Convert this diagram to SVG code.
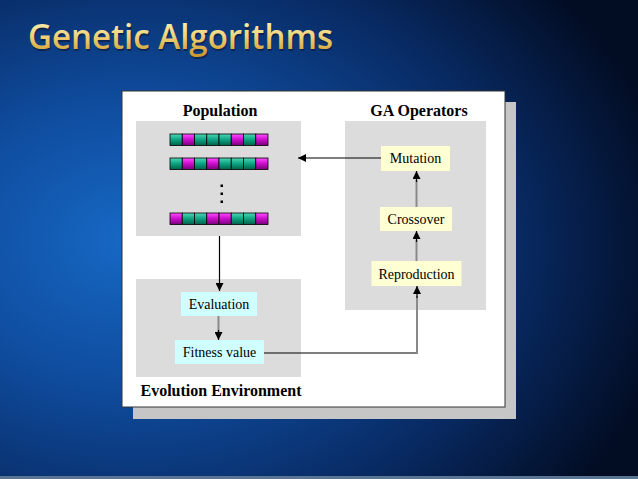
<svg xmlns="http://www.w3.org/2000/svg" width="638" height="479" viewBox="0 0 638 479">
<defs>
<radialGradient id="bg" cx="0.22" cy="0.52" r="0.85" fx="0.2" fy="0.5">
<stop offset="0" stop-color="#1668c4"/>
<stop offset="0.35" stop-color="#0f4c9e"/>
<stop offset="0.7" stop-color="#082a63"/>
<stop offset="1" stop-color="#020c22"/>
</radialGradient>
<linearGradient id="gold" x1="0" y1="0" x2="0" y2="1">
<stop offset="0" stop-color="#fffbd0"/>
<stop offset="0.5" stop-color="#f0d47a"/>
<stop offset="1" stop-color="#c48e22"/>
</linearGradient>
<linearGradient id="teal" x1="0" y1="0" x2="0" y2="1">
<stop offset="0" stop-color="#50d8b8"/>
<stop offset="0.45" stop-color="#10a886"/>
<stop offset="1" stop-color="#006048"/>
</linearGradient>
<linearGradient id="mag" x1="0" y1="0" x2="0" y2="1">
<stop offset="0" stop-color="#ff50ff"/>
<stop offset="0.45" stop-color="#d010d0"/>
<stop offset="1" stop-color="#780078"/>
</linearGradient>
<marker id="ah" viewBox="0 0 10 10" refX="10" refY="5" markerWidth="9" markerHeight="8" markerUnits="userSpaceOnUse" orient="auto">
<path d="M0,0 L10,5 L0,10 Z" fill="#000"/>
</marker>
<style>
.t{font-family:"Liberation Serif","Times New Roman",serif;fill:#000}
.h{font-size:16px;font-weight:bold}
.n{font-size:14px}
.grp{fill:#dcdcdc}
.y{fill:#ffffd4}
.c{fill:#d0ffff}
.g{fill:url(#teal);stroke:#000;stroke-width:0.8}
.m{fill:url(#mag);stroke:#000;stroke-width:0.8}
.blk{stroke:#000;stroke-width:1.2;fill:none}
.gry{stroke:#8a8a8a;stroke-width:2;fill:none}
.ttl{font-family:"Open Sans","Noto Sans",sans-serif;font-size:34px;font-weight:600}
</style>
</defs>
<rect width="638" height="479" fill="url(#bg)"/>
<rect x="0" y="476" width="638" height="3" fill="#5a7594"/>
<text class="ttl" x="28" y="49" fill="#0a1530" opacity="0.55" textLength="305" lengthAdjust="spacingAndGlyphs" transform="translate(1,1.5)">Genetic Algorithms</text>
<text class="ttl" x="28" y="49" fill="url(#gold)" textLength="305" lengthAdjust="spacingAndGlyphs">Genetic Algorithms</text>

<rect x="133" y="102" width="383" height="317" fill="#c6c6c6"/>
<rect x="122" y="91" width="383" height="316" fill="#fff" stroke="#333" stroke-width="1"/>

<g id="population">
<rect class="grp" x="136" y="121" width="165" height="115"/>
<text class="t h" x="220" y="116" text-anchor="middle">Population</text>
<g transform="translate(170,134)">
<rect class="g" x="0" y="0" width="12.25" height="11.5"/><rect class="m" x="12.25" y="0" width="12.25" height="11.5"/><rect class="g" x="24.5" y="0" width="12.25" height="11.5"/><rect class="g" x="36.75" y="0" width="12.25" height="11.5"/><rect class="g" x="49" y="0" width="12.25" height="11.5"/><rect class="m" x="61.25" y="0" width="12.25" height="11.5"/><rect class="g" x="73.5" y="0" width="12.25" height="11.5"/><rect class="m" x="85.75" y="0" width="12.25" height="11.5"/>
</g>
<g transform="translate(170,158)">
<rect class="g" x="0" y="0" width="12.25" height="11.5"/><rect class="m" x="12.25" y="0" width="12.25" height="11.5"/><rect class="g" x="24.5" y="0" width="12.25" height="11.5"/><rect class="m" x="36.75" y="0" width="12.25" height="11.5"/><rect class="g" x="49" y="0" width="12.25" height="11.5"/><rect class="g" x="61.25" y="0" width="12.25" height="11.5"/><rect class="g" x="73.5" y="0" width="12.25" height="11.5"/><rect class="m" x="85.75" y="0" width="12.25" height="11.5"/>
</g>
<g transform="translate(170,213)">
<rect class="m" x="0" y="0" width="12.25" height="11.5"/><rect class="g" x="12.25" y="0" width="12.25" height="11.5"/><rect class="g" x="24.5" y="0" width="12.25" height="11.5"/><rect class="m" x="36.75" y="0" width="12.25" height="11.5"/><rect class="m" x="49" y="0" width="12.25" height="11.5"/><rect class="g" x="61.25" y="0" width="12.25" height="11.5"/><rect class="g" x="73.5" y="0" width="12.25" height="11.5"/><rect class="m" x="85.75" y="0" width="12.25" height="11.5"/>
</g>
<rect x="220.5" y="184.5" width="2.5" height="2.5" fill="#000"/>
<rect x="220.5" y="192.5" width="2.5" height="2.5" fill="#000"/>
<rect x="220.5" y="200.5" width="2.5" height="2.5" fill="#000"/>
</g>

<g id="ga-operators">
<rect class="grp" x="345" y="121" width="141" height="189"/>
<text class="t h" x="419" y="116" text-anchor="middle">GA Operators</text>
</g>
<g id="mutation">
<rect class="y" x="381" y="146" width="69" height="25"/>
<text class="t n" x="415.5" y="163" text-anchor="middle">Mutation</text>
</g>
<g id="crossover">
<rect class="y" x="380" y="207" width="72" height="24"/>
<text class="t n" x="416" y="223.5" text-anchor="middle">Crossover</text>
</g>
<g id="reproduction">
<rect class="y" x="371.5" y="261" width="90" height="25"/>
<text class="t n" x="416.5" y="278.5" text-anchor="middle">Reproduction</text>
</g>

<g id="evolution-environment">
<rect class="grp" x="136" y="279" width="165" height="98"/>
<text class="t h" x="221" y="396" text-anchor="middle">Evolution Environment</text>
</g>
<g id="evaluation">
<rect class="c" x="181" y="292" width="76" height="24"/>
<text class="t n" x="219" y="308.5" text-anchor="middle">Evaluation</text>
</g>
<g id="fitness-value">
<rect class="c" x="175" y="340" width="89" height="24"/>
<text class="t n" x="219.5" y="357" text-anchor="middle">Fitness value</text>
</g>

<g id="connectors">
<line class="blk" x1="381" y1="158" x2="298" y2="158" marker-end="url(#ah)"/>
<line class="blk" x1="219.5" y1="236" x2="219.5" y2="291" marker-end="url(#ah)"/>
<line class="gry" x1="218.5" y1="316" x2="218.5" y2="332"/>
<line class="blk" x1="218.5" y1="330" x2="218.5" y2="340" marker-end="url(#ah)"/>
<line class="blk" x1="264" y1="353" x2="417" y2="353"/>
<line class="gry" x1="417" y1="354" x2="417" y2="296"/>
<line class="blk" x1="417" y1="298" x2="417" y2="286" marker-end="url(#ah)"/>
<line class="gry" x1="416.5" y1="261" x2="416.5" y2="240"/>
<line class="blk" x1="416.5" y1="242" x2="416.5" y2="231" marker-end="url(#ah)"/>
<line class="gry" x1="416.5" y1="207" x2="416.5" y2="180"/>
<line class="blk" x1="416.5" y1="182" x2="416.5" y2="171" marker-end="url(#ah)"/>
</g>
</svg>
